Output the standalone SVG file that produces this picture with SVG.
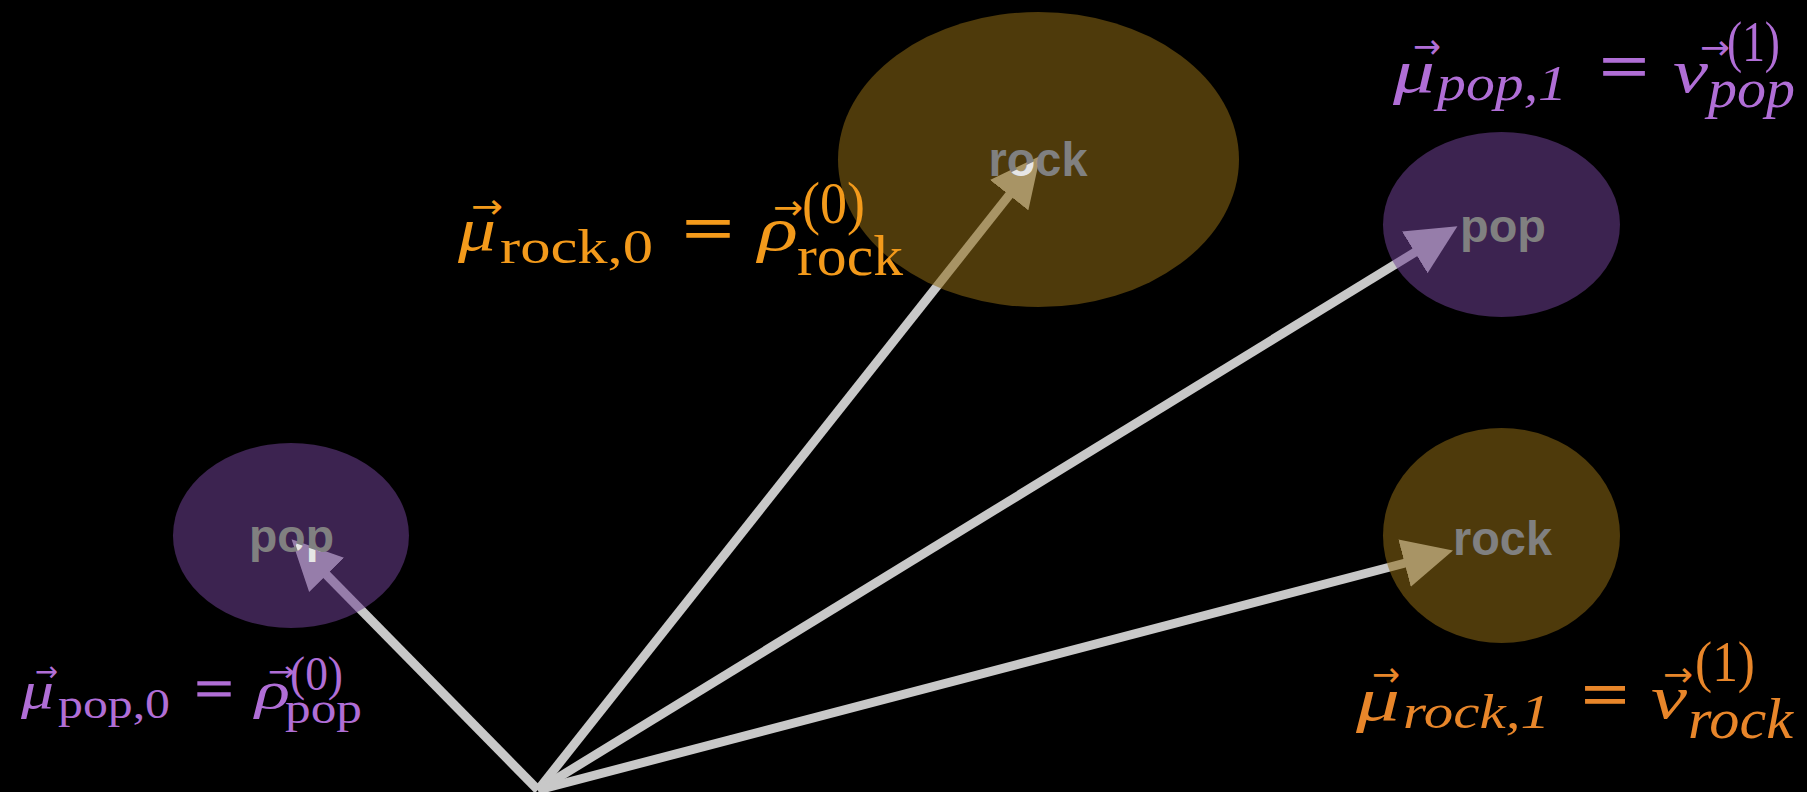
<svg xmlns="http://www.w3.org/2000/svg" width="1807" height="792" viewBox="0 0 1807 792">
<style>
.edge{stroke:#c8c8c8;stroke-width:9;fill:none;marker-end:url(#ah)}
.rock{fill:rgb(142,105,20);fill-opacity:0.55}
.pop{fill:rgb(109,64,145);fill-opacity:0.55}
.nl{font-family:"Liberation Sans",Arial,sans-serif;font-weight:bold;fill:#808080;text-anchor:middle}
.hl{fill:#e6e6e6}
.m{font-family:"Liberation Serif","Times New Roman",serif}
.i{font-style:italic}
.v{font-family:"DejaVu Sans",sans-serif}
.eq{stroke-width:1.6}
.or{fill:#f39a1b;stroke:#f39a1b;stroke-width:0}
.or2{fill:#e8862a;stroke:#e8862a;stroke-width:0}
.pu{fill:#b06ed6;stroke:#b06ed6;stroke-width:0}
</style>
<defs>
<marker id="ah" markerUnits="userSpaceOnUse" markerWidth="50" markerHeight="50" refX="6" refY="21.5" orient="auto" viewBox="0 0 44 43">
<path d="M0,0 L44,21.5 L0,43 Z" fill="#c8c8c8"/>
</marker>
<clipPath id="clip1"><polygon points="1037,160 1026.4,207.9 992.8,181.1"/></clipPath>
<clipPath id="clip2"><polygon points="295,543 341.3,559.1 310.7,589.3"/></clipPath>
</defs>
<rect x="0" y="0" width="1807" height="792" fill="#000"/>
<g id="connectors">
<line class="edge" x1="538" y1="790" x2="1013.4" y2="189.8"/>
<line class="edge" x1="538" y1="790" x2="321.8" y2="570.0"/>
<line class="edge" x1="538" y1="790" x2="1420.6" y2="248.8"/>
<line class="edge" x1="538" y1="790" x2="1411.2" y2="561.5"/>
</g>
<g id="node-rock-0">
<ellipse class="rock" cx="1038.5" cy="159.5" rx="200.5" ry="147.5"/>
<text class="nl" x="1038" y="176" font-size="48" textLength="99" lengthAdjust="spacingAndGlyphs">rock</text>
<text class="nl hl" x="1038" y="176" font-size="48" textLength="99" lengthAdjust="spacingAndGlyphs" clip-path="url(#clip1)">rock</text>
</g>
<g id="node-pop-0">
<ellipse class="pop" cx="291" cy="535.5" rx="118" ry="92.5"/>
<text class="nl" x="291.5" y="552" font-size="47" textLength="85" lengthAdjust="spacingAndGlyphs">pop</text>
<text class="nl hl" x="291.5" y="552" font-size="47" textLength="85" lengthAdjust="spacingAndGlyphs" clip-path="url(#clip2)">pop</text>
</g>
<g id="node-pop-1">
<ellipse class="pop" cx="1501.5" cy="224.5" rx="118.5" ry="92.5"/>
<text class="nl" x="1503" y="242" font-size="47" textLength="86" lengthAdjust="spacingAndGlyphs">pop</text>
</g>
<g id="node-rock-1">
<ellipse class="rock" cx="1501.5" cy="535.5" rx="118.5" ry="107.5"/>
<text class="nl" x="1502.5" y="555" font-size="48" textLength="99" lengthAdjust="spacingAndGlyphs">rock</text>
</g>
<g id="label-rock-0" class="m or">
<text class="i" x="458" y="250" font-size="62" textLength="38" lengthAdjust="spacingAndGlyphs">μ</text>
<text class="v" x="471" y="218" font-size="34" textLength="32" lengthAdjust="spacingAndGlyphs">→</text>
<text x="500" y="263" font-size="48" textLength="153" lengthAdjust="spacingAndGlyphs">rock,0</text>
<text class="eq" x="683" y="251" font-size="66" textLength="50" lengthAdjust="spacingAndGlyphs">=</text>
<text class="i" x="758" y="250" font-size="62" textLength="40" lengthAdjust="spacingAndGlyphs">ρ</text>
<text class="v" x="773" y="219" font-size="34" textLength="30" lengthAdjust="spacingAndGlyphs">→</text>
<text x="802" y="223" font-size="60" textLength="63" lengthAdjust="spacingAndGlyphs">(0)</text>
<text x="797" y="275" font-size="56" textLength="106" lengthAdjust="spacingAndGlyphs">rock</text>
</g>
<g id="label-pop-1" class="m pu">
<text class="i" x="1393" y="92" font-size="62" textLength="42" lengthAdjust="spacingAndGlyphs">μ</text>
<text class="v" x="1413" y="58" font-size="34" textLength="28" lengthAdjust="spacingAndGlyphs">→</text>
<text class="i" x="1437" y="100" font-size="50" textLength="130" lengthAdjust="spacingAndGlyphs">pop,1</text>
<text class="eq" x="1600" y="89" font-size="66" textLength="48" lengthAdjust="spacingAndGlyphs">=</text>
<text class="i" x="1673" y="92" font-size="62" textLength="35" lengthAdjust="spacingAndGlyphs">v</text>
<text class="v" x="1700" y="59" font-size="34" textLength="30" lengthAdjust="spacingAndGlyphs">→</text>
<text x="1727" y="61" font-size="56" textLength="53" lengthAdjust="spacingAndGlyphs">(1)</text>
<text class="i" x="1708" y="107" font-size="54" textLength="87" lengthAdjust="spacingAndGlyphs">pop</text>
</g>
<g id="label-pop-0" class="m pu">
<text class="i" x="21" y="708" font-size="52" textLength="33" lengthAdjust="spacingAndGlyphs">μ</text>
<text class="v" x="35" y="681" font-size="28" textLength="23" lengthAdjust="spacingAndGlyphs">→</text>
<text x="58" y="718" font-size="42" textLength="112" lengthAdjust="spacingAndGlyphs">pop,0</text>
<text class="eq" x="195" y="707" font-size="54" textLength="38" lengthAdjust="spacingAndGlyphs">=</text>
<text class="i" x="255" y="708" font-size="52" textLength="35" lengthAdjust="spacingAndGlyphs">ρ</text>
<text class="v" x="268" y="681" font-size="28" textLength="27" lengthAdjust="spacingAndGlyphs">→</text>
<text x="290" y="690" font-size="48" textLength="53" lengthAdjust="spacingAndGlyphs">(0)</text>
<text x="285" y="723" font-size="44" textLength="77" lengthAdjust="spacingAndGlyphs">pop</text>
</g>
<g id="label-rock-1" class="m or2">
<text class="i" x="1356" y="720" font-size="62" textLength="44" lengthAdjust="spacingAndGlyphs">μ</text>
<text class="v" x="1372" y="686" font-size="34" textLength="28" lengthAdjust="spacingAndGlyphs">→</text>
<text class="i" x="1403" y="728" font-size="48" textLength="147" lengthAdjust="spacingAndGlyphs">rock,1</text>
<text class="eq" x="1582" y="717" font-size="66" textLength="46" lengthAdjust="spacingAndGlyphs">=</text>
<text class="i" x="1651" y="718" font-size="62" textLength="36" lengthAdjust="spacingAndGlyphs">v</text>
<text class="v" x="1663" y="686" font-size="34" textLength="30" lengthAdjust="spacingAndGlyphs">→</text>
<text x="1695" y="681" font-size="56" textLength="60" lengthAdjust="spacingAndGlyphs">(1)</text>
<text class="i" x="1688" y="738" font-size="56" textLength="105" lengthAdjust="spacingAndGlyphs">rock</text>
</g>
</svg>
